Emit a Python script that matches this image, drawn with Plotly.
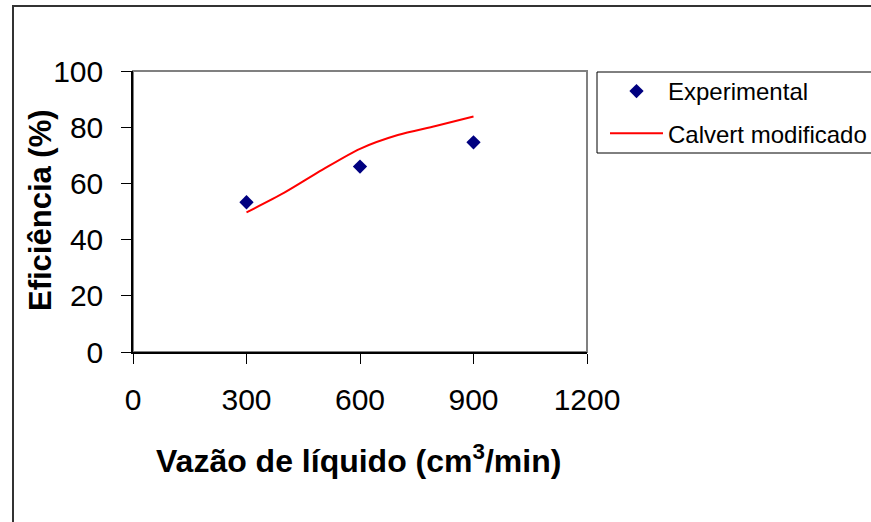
import plotly.graph_objects as go

# Experimental efficiency vs. liquid flow rate
vazao_exp = [300, 600, 900]
eficiencia_exp = [53.3, 66.0, 74.6]

# Modified Calvert model curve
vazao_modelo = [300, 400, 500, 600, 700, 800, 900]
eficiencia_modelo = [49.7, 56.7, 64.8, 72.3, 77.2, 80.4, 83.8]

x_ticks = [0, 300, 600, 900, 1200]
y_ticks = [0, 20, 40, 60, 80, 100]

FONT = "Liberation Sans, Arial, sans-serif"

W, H = 871, 522
L, R, T, B = 133, 587, 71, 352
pw, ph = R - L, B - T


def px_x(p):
    return (p - L) / pw


def px_y(p):
    return (B - p) / ph


fig = go.Figure()

fig.add_trace(go.Scatter(
    x=vazao_exp, y=eficiencia_exp, mode="markers", name="Experimental",
    legendgroup="exp",
    marker=dict(symbol="diamond", size=11, color="#000080"),
    cliponaxis=False,
))
fig.add_trace(go.Scatter(
    x=vazao_modelo, y=eficiencia_modelo, mode="lines", name="Calvert modificado",
    legendgroup="calvert",
    line=dict(color="#FF0000", width=2, shape="spline", smoothing=0.8),
    cliponaxis=False,
))

axis_common = dict(
    showgrid=False, zeroline=False, showline=True, linecolor="black", linewidth=1.5,
    ticks="outside", ticklen=10, tickcolor="black", tickwidth=1,
    tickfont=dict(family=FONT, size=30, color="black"),
)

fig.update_layout(
    width=W, height=H,
    margin=dict(l=L, r=W - R, t=T, b=H - B, autoexpand=False),
    paper_bgcolor="white", plot_bgcolor="white",
    showlegend=True,
    legend=dict(
        x=px_x(605), y=px_y(69), xanchor="left", yanchor="top",
        bgcolor="rgba(0,0,0,0)", borderwidth=0,
        font=dict(family=FONT, size=24, color="black"),
        itemwidth=53, tracegroupgap=8, traceorder="grouped",
    ),
    xaxis=dict(range=[0, 1200], tickvals=x_ticks, ticklabelstandoff=10, **axis_common),
    yaxis=dict(range=[0, 100], tickvals=y_ticks, ticklabelstandoff=12, **axis_common),
    shapes=[
        # grey frame of the plotting area
        dict(type="rect", xref="paper", yref="paper", x0=0, x1=1, y0=0, y1=1,
             line=dict(color="#808080", width=2), layer="below"),
        # legend frame
        dict(type="rect", xref="paper", yref="paper",
             x0=px_x(597), x1=px_x(900), y0=px_y(153), y1=px_y(72),
             line=dict(color="black", width=1)),
        # outer chart frame
        dict(type="rect", xref="paper", yref="paper",
             x0=px_x(13), x1=px_x(900), y0=px_y(560), y1=px_y(6),
             line=dict(color="#333333", width=2)),
    ],
    annotations=[
        dict(text="<b>Eficiência (%)</b>", textangle=-90,
             xref="paper", yref="paper", x=px_x(40), y=px_y(210),
             xanchor="center", yanchor="middle", showarrow=False,
             font=dict(family=FONT, size=31, color="black")),
        dict(text="<b>Vazão de líquido (cm<sup>3</sup>/min)</b>",
             xref="paper", yref="paper", x=px_x(358), y=px_y(459),
             xanchor="center", yanchor="middle", showarrow=False,
             font=dict(family=FONT, size=32, color="black")),
    ],
)

fig.write_html("out.html")
